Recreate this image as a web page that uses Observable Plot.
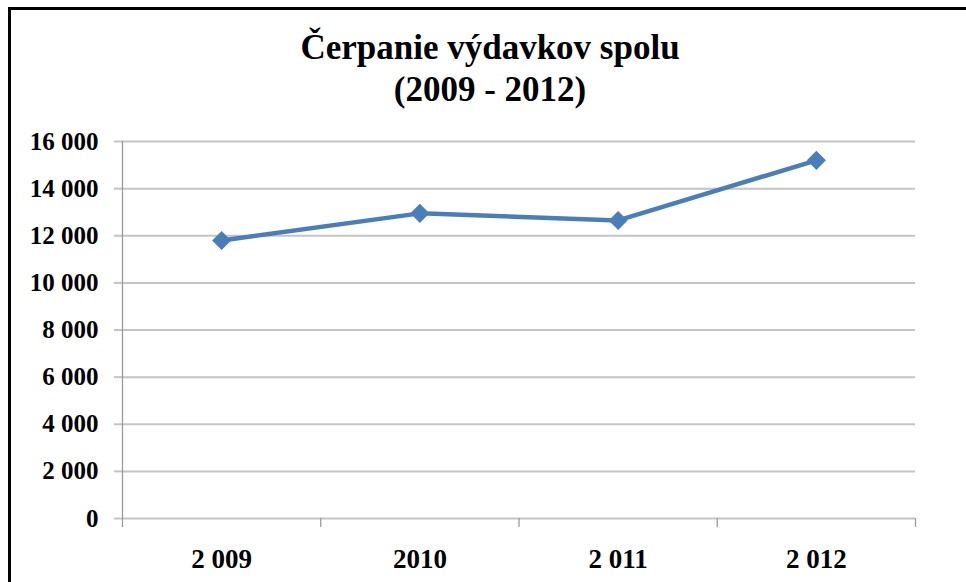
<!DOCTYPE html>
<html>
<head>
<meta charset="utf-8">
<script src="https://cdn.jsdelivr.net/npm/d3@7"></script>
<script src="https://cdn.jsdelivr.net/npm/@observablehq/plot@0.6"></script>
<style>
  html, body { margin: 0; padding: 0; background: #fff; }
  #outer { width: 966px; height: 582px; overflow: hidden; position: relative; background: #fff; }
  #frame { position: absolute; left: 8px; top: 7px; width: 1000px; height: 1000px;
           border-left: 3px solid #000; border-top: 3px solid #000; }
  #title { height: 115px; box-sizing: border-box; padding-top: 17px; width: 958px;
           text-align: center; font-family: "Liberation Serif", "Times New Roman", serif;
           font-weight: bold; font-size: 35px; line-height: 42px; color: #000; }
  #chart svg text { font-family: "Liberation Serif", "Times New Roman", serif !important; }
</style>
</head>
<body>
<div id="outer">
  <div id="frame">
    <div id="title">Čerpanie výdavkov spolu<br>(2009 - 2012)</div>
    <div id="chart"></div>
  </div>
</div>
<script>
const years = [2009, 2010, 2011, 2012];
const yearLabels = ["2 009", "2010", "2 011", "2 012"];
const values = [11800, 12950, 12650, 15200];
const yTicks = [0, 2000, 4000, 6000, 8000, 10000, 12000, 14000, 16000];

const data = years.map((yr, i) => ({year: yr, value: values[i]}));
const boundaries = years.map(y => y - 0.5).concat([years[years.length - 1] + 0.5]);
const labelOf = new Map(years.map((y, i) => [y, yearLabels[i]]));
const fmtY = d => d3.format(",")(d).replace(/,/g, " ");

const font = "'Liberation Serif', 'Times New Roman', serif";

const chart = Plot.plot({
  width: 955,
  height: 457,
  marginLeft: 111,
  marginRight: 51,
  marginTop: 16,
  marginBottom: 64,
  style: {fontFamily: font, background: "#fff", color: "#000"},
  x: {domain: [boundaries[0], boundaries[boundaries.length - 1]], axis: null},
  y: {domain: [0, 16000], axis: null},
  marks: [
    Plot.gridY(yTicks, {stroke: "#c4c4c4", strokeWidth: 2, strokeOpacity: 1}),
    Plot.axisY(yTicks, {tickSize: 8, tickPadding: 16, stroke: "#c4c4c4", strokeWidth: 2,
      tickFormat: fmtY, fontSize: 25, fontWeight: "bold", fontFamily: font, fill: "#000", label: null}),
    Plot.axisX(boundaries, {tickSize: 9, tickFormat: () => "", stroke: "#9a9a9a", strokeWidth: 1.3, label: null}),
    Plot.axisX(years, {tickSize: 0, tickPadding: 30, tickFormat: d => labelOf.get(d),
      fontSize: 27, fontWeight: "bold", fontFamily: font, fill: "#000", label: null}),
    Plot.ruleX([boundaries[0]], {stroke: "#9a9a9a", strokeWidth: 1.3}),
    Plot.line(data, {x: "year", y: "value", stroke: "#4a7ebb", strokeWidth: 4.5}),
    Plot.dot(data, {x: "year", y: "value", symbol: "square", rotate: 45, r: 7.6, fill: "#4a7ebb", stroke: "none"})
  ]
});
document.getElementById("chart").appendChild(chart);
</script>
</body>
</html>
